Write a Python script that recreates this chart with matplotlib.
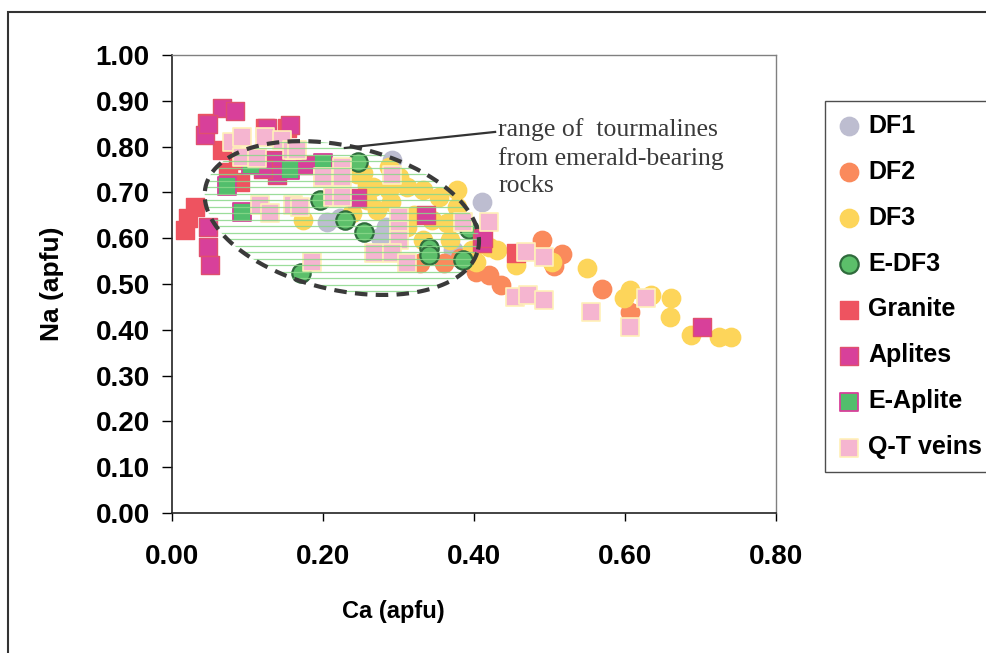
import numpy as np
import matplotlib
matplotlib.use("Agg")
import matplotlib.pyplot as plt
from matplotlib.patches import Polygon, Rectangle

plt.rcParams['font.family'] = ['Liberation Sans', 'DejaVu Sans']

# Ca vs Na (apfu) per group
df1_ca = [0.292, 0.205, 0.222, 0.275, 0.284, 0.410, 0.372]
df1_na = [0.770, 0.635, 0.645, 0.603, 0.625, 0.680, 0.574]

df2_ca = [0.328, 0.381, 0.403, 0.436, 0.490, 0.517, 0.506, 0.570, 0.606, 0.420, 0.360]
df2_na = [0.546, 0.557, 0.526, 0.498, 0.596, 0.566, 0.539, 0.489, 0.439, 0.520, 0.545]

df3_ca = [0.253, 0.266, 0.288, 0.311, 0.332, 0.354, 0.377, 0.377, 0.364, 0.368,
          0.332, 0.311, 0.271, 0.258, 0.239, 0.398, 0.420, 0.173, 0.301, 0.288,
          0.245, 0.258, 0.345, 0.320, 0.290,
          0.403, 0.430, 0.456, 0.504, 0.550, 0.599, 0.606, 0.635, 0.661, 0.659,
          0.688, 0.725, 0.741]
df3_na = [0.742, 0.712, 0.705, 0.712, 0.705, 0.690, 0.705, 0.668, 0.633, 0.596,
          0.596, 0.624, 0.662, 0.683, 0.655, 0.574, 0.581, 0.640, 0.734, 0.755,
          0.740, 0.715, 0.640, 0.650, 0.680,
          0.548, 0.574, 0.541, 0.548, 0.535, 0.469, 0.487, 0.476, 0.469, 0.428,
          0.389, 0.384, 0.384]

edf3_ca = [0.247, 0.196, 0.229, 0.255, 0.341, 0.341, 0.385, 0.171, 0.394]
edf3_na = [0.766, 0.683, 0.640, 0.614, 0.578, 0.563, 0.553, 0.524, 0.620]

granite_ca = [0.017, 0.030, 0.021, 0.046, 0.066, 0.074, 0.087, 0.123, 0.153, 0.090, 0.456]
granite_na = [0.618, 0.668, 0.644, 0.852, 0.793, 0.745, 0.771, 0.841, 0.841, 0.723, 0.568]

aplites_ca = [0.066, 0.083, 0.044, 0.048, 0.126, 0.156, 0.136, 0.139, 0.176, 0.120,
              0.048, 0.048, 0.050, 0.245, 0.337, 0.410, 0.412, 0.702]
aplites_na = [0.884, 0.878, 0.825, 0.850, 0.840, 0.847, 0.770, 0.738, 0.760, 0.750,
              0.624, 0.580, 0.541, 0.688, 0.651, 0.590, 0.600, 0.406]

eaplite_ca = [0.073, 0.093, 0.157, 0.200, 0.105]
eaplite_na = [0.714, 0.657, 0.748, 0.765, 0.760]

qt_ca = [0.079, 0.093, 0.123, 0.146, 0.159, 0.093, 0.112, 0.200, 0.225, 0.225,
         0.291, 0.116, 0.130, 0.160, 0.213, 0.225, 0.301, 0.301, 0.301, 0.268,
         0.292, 0.311, 0.185, 0.420, 0.385, 0.165, 0.169, 0.200,
         0.469, 0.493, 0.454, 0.471, 0.493, 0.555, 0.628, 0.606]
qt_na = [0.810, 0.820, 0.820, 0.814, 0.793, 0.777, 0.775, 0.731, 0.755, 0.734,
         0.738, 0.672, 0.655, 0.672, 0.690, 0.690, 0.646, 0.618, 0.596, 0.568,
         0.568, 0.546, 0.548, 0.635, 0.635, 0.793, 0.668, 0.734,
         0.570, 0.559, 0.472, 0.476, 0.465, 0.439, 0.469, 0.406]

fig = plt.figure(figsize=(9.86, 6.53), dpi=100)
ax = fig.add_axes([0.1744, 0.2144, 0.6126, 0.7014])

S = 175
ax.scatter(df1_ca, df1_na, s=S, marker='o', c='#BDBDD0', edgecolors='#BDBDD0', label='DF1', zorder=3)
ax.scatter(df2_ca, df2_na, s=S, marker='o', c='#FA8A5C', edgecolors='#FA8A5C', label='DF2', zorder=3)
ax.scatter(df3_ca, df3_na, s=S, marker='o', c='#FDD55A', edgecolors='#FDD55A', label='DF3', zorder=3)
ax.scatter(edf3_ca, edf3_na, s=S, marker='o', c='#5CBF6A', edgecolors='#2F6B3C', linewidths=1.6,
           label='E-DF3', zorder=3)
ax.scatter(granite_ca, granite_na, s=S, marker='s', c='#EE5360', edgecolors='#EE5360', label='Granite', zorder=3)
ax.scatter(aplites_ca, aplites_na, s=S, marker='s', c='#D8409A', edgecolors='#E0506E', label='Aplites', zorder=3)
ax.scatter(eaplite_ca, eaplite_na, s=S, marker='s', c='#52BE6C', edgecolors='#D8409A', linewidths=1.3,
           label='E-Aplite', zorder=3)
ax.scatter(qt_ca, qt_na, s=S, marker='s', c='#F5B5D0', edgecolors='#FFF0B8', linewidths=1.2,
           label='Q-T veins', zorder=3)

# field of emerald-bearing rocks: tilted ellipse with horizontal ruling
ell_c = np.array([0.225, 0.644])
ell_u = np.array([0.1804, -0.0688])
ell_v = np.array([0.0214, 0.1532])
t = np.linspace(0, 2 * np.pi, 300)
pts = ell_c + np.outer(np.cos(t), ell_u) + np.outer(np.sin(t), ell_v)
clip = Polygon(pts, closed=True, fill=False, edgecolor='none', transform=ax.transData)
ax.add_patch(clip)
ys = np.arange(0.47, 0.83, 0.0142)
rules = ax.hlines(ys, 0.03, 0.42, colors='#8AD88A', linewidth=0.9, alpha=0.85, zorder=4)
rules.set_clip_path(clip)
ax.plot(pts[:, 0], pts[:, 1], color='#3A3A3A', lw=3, linestyle=(0, (3, 2)), zorder=5)

ax.plot([0.229, 0.33, 0.428], [0.797, 0.815, 0.832], color='#333333', lw=1.6, zorder=5)
ax.text(0.432, 0.862, 'range of  tourmalines\nfrom emerald-bearing\nrocks',
        family='Liberation Serif', fontsize=18.5, color='#3A3A3A', va='top', ha='left',
        linespacing=1.3, zorder=6)

ax.set_xlim(0, 0.8)
ax.set_ylim(0, 1.0)
ax.set_xticks(np.arange(0, 0.81, 0.2))
ax.set_yticks(np.arange(0, 1.01, 0.1))
ax.xaxis.set_major_formatter(plt.FormatStrFormatter('%.2f'))
ax.yaxis.set_major_formatter(plt.FormatStrFormatter('%.2f'))
ax.tick_params(direction='out', width=1, labelsize=20)
ax.tick_params(axis='x', length=6, pad=16)
ax.tick_params(axis='y', length=7, pad=9)
for lab in ax.get_xticklabels() + ax.get_yticklabels():
    lab.set_fontweight('bold')
ax.set_xlabel('Ca (apfu)', fontsize=17, fontweight='bold')
ax.set_ylabel('Na (apfu)', fontsize=19, fontweight='bold')
ax.xaxis.set_label_coords((394 - 172) / 605, -0.19)
ax.yaxis.set_label_coords(-0.1785, 0.5)
for side in ['top', 'right']:
    ax.spines[side].set_color('#808080')
    ax.spines[side].set_linewidth(1)
for side in ['left', 'bottom']:
    ax.spines[side].set_color('#222222')
    ax.spines[side].set_linewidth(1.2)

leg = ax.legend(loc='upper left', bbox_to_anchor=(825 / 986, 1 - 101 / 653),
                bbox_transform=fig.transFigure, frameon=True, fancybox=False,
                prop={'weight': 'bold', 'size': 18}, labelspacing=0.875,
                handlelength=0.9, handletextpad=0.3, borderpad=0.52, borderaxespad=0)
leg.get_frame().set_edgecolor('#222222')
leg.get_frame().set_linewidth(1)

# outer border of the figure panel
fig.patches.append(Rectangle((8 / 986, -0.1), 1.2, 1 - 12 / 653 + 0.1, transform=fig.transFigure,
                             fill=False, edgecolor='#333333', lw=1.5))

fig.savefig('out.png', dpi=100)
